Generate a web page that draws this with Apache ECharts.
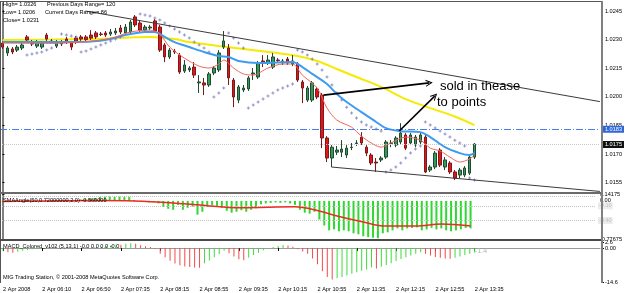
<!DOCTYPE html>
<html>
<head>
<meta charset="utf-8">
<script src="https://cdn.jsdelivr.net/npm/echarts@6/dist/echarts.min.js"></script>
<style>
  html, body { margin: 0; padding: 0; background: #fff; }
  #main { width: 625px; height: 293px; }
</style>
</head>
<body>
<div id="main"></div>
<script>
  // x axis: one tick label every 8 bars
  const xTickLabels = ['2 Apr 2008', '2 Apr 06:10', '2 Apr 06:50', '2 Apr 07:35', '2 Apr 08:15', '2 Apr 08:55',
    '2 Apr 09:35', '2 Apr 10:15', '2 Apr 10:55', '2 Apr 11:35', '2 Apr 12:15', '2 Apr 12:55', '2 Apr 13:35']
  const barsPerTick = 8
  const slotCount = 122

  // candles: [open, close, low, high]
  const candles = [
    [1.02282, 1.02261, 1.02251, 1.02293], [1.02230, 1.02256, 1.02214, 1.02266], [1.02251, 1.02235, 1.02224, 1.02261],
    [1.02245, 1.02261, 1.02235, 1.02272], [1.02256, 1.02272, 1.02245, 1.02282], [1.02314, 1.02298, 1.02287, 1.02324],
    [1.02287, 1.02277, 1.02266, 1.02298], [1.02266, 1.02287, 1.02256, 1.02298], [1.02261, 1.02282, 1.02251, 1.02293],
    [1.02324, 1.02303, 1.02293, 1.02335], [1.02293, 1.02290, 1.02282, 1.02303], [1.02266, 1.02287, 1.02256, 1.02298],
    [1.02287, 1.02277, 1.02266, 1.02298], [1.02303, 1.02287, 1.02277, 1.02314], [1.02282, 1.02261, 1.02245, 1.02293],
    [1.02308, 1.02287, 1.02277, 1.02319], [1.02314, 1.02303, 1.02293, 1.02324], [1.02314, 1.02300, 1.02293, 1.02324],
    [1.02324, 1.02308, 1.02298, 1.02350], [1.02335, 1.02314, 1.02303, 1.02345], [1.02329, 1.02327, 1.02319, 1.02340],
    [1.02335, 1.02324, 1.02314, 1.02345], [1.02329, 1.02340, 1.02319, 1.02356], [1.02335, 1.02345, 1.02324, 1.02361],
    [1.02361, 1.02340, 1.02329, 1.02377], [1.02335, 1.02366, 1.02324, 1.02382], [1.02340, 1.02392, 1.02329, 1.02403],
    [1.02419, 1.02377, 1.02366, 1.02429], [1.02387, 1.02350, 1.02340, 1.02398], [1.02350, 1.02366, 1.02340, 1.02377],
    [1.02361, 1.02366, 1.02350, 1.02377], [1.02398, 1.02345, 1.02335, 1.02408], [1.02366, 1.02245, 1.02235, 1.02377],
    [1.02272, 1.02209, 1.02182, 1.02282], [1.02209, 1.02245, 1.02198, 1.02256], [1.02240, 1.02235, 1.02224, 1.02251],
    [1.02219, 1.02130, 1.02120, 1.02230], [1.02135, 1.02167, 1.02125, 1.02193], [1.02141, 1.02151, 1.02130, 1.02161],
    [1.02156, 1.02114, 1.02099, 1.02182], [1.02073, 1.02078, 1.02020, 1.02114], [1.02073, 1.02062, 1.02009, 1.02099],
    [1.02062, 1.02120, 1.02052, 1.02130], [1.02125, 1.02151, 1.02114, 1.02161], [1.02141, 1.02230, 1.02130, 1.02245],
    [1.02261, 1.02293, 1.02251, 1.02345], [1.02256, 1.02099, 1.02062, 1.02277], [1.02088, 1.01999, 1.01946, 1.02099],
    [1.01983, 1.02052, 1.01967, 1.02062], [1.02036, 1.02046, 1.02025, 1.02062], [1.02041, 1.02099, 1.02031, 1.02109],
    [1.02120, 1.02125, 1.02088, 1.02151], [1.02104, 1.02177, 1.02094, 1.02188], [1.02188, 1.02177, 1.02156, 1.02219],
    [1.02177, 1.02193, 1.02167, 1.02219], [1.02156, 1.02209, 1.02146, 1.02230], [1.02193, 1.02190, 1.02182, 1.02203],
    [1.02177, 1.02188, 1.02167, 1.02198], [1.02198, 1.02177, 1.02167, 1.02209], [1.02172, 1.02188, 1.02161, 1.02219],
    [1.02172, 1.02088, 1.02078, 1.02182], [1.02078, 1.02046, 1.01967, 1.02088], [1.01983, 1.02046, 1.01973, 1.02057],
    [1.01983, 1.02073, 1.01973, 1.02083], [1.02041, 1.01999, 1.01988, 1.02052], [1.02009, 1.01784, 1.01731, 1.02020],
    [1.01784, 1.01679, 1.01658, 1.01794], [1.01679, 1.01736, 1.01632, 1.01747], [1.01710, 1.01721, 1.01695, 1.01742],
    [1.01710, 1.01726, 1.01684, 1.01773], [1.01695, 1.01731, 1.01679, 1.01747], [1.01734, 1.01736, 1.01721, 1.01758],
    [1.01755, 1.01758, 1.01742, 1.01773], [1.01789, 1.01758, 1.01747, 1.01815], [1.01736, 1.01705, 1.01689, 1.01747],
    [1.01695, 1.01653, 1.01642, 1.01705], [1.01658, 1.01653, 1.01606, 1.01679], [1.01669, 1.01679, 1.01658, 1.01689],
    [1.01684, 1.01763, 1.01674, 1.01773], [1.01755, 1.01758, 1.01736, 1.01773], [1.01747, 1.01784, 1.01736, 1.01794],
    [1.01763, 1.01810, 1.01752, 1.01862], [1.01800, 1.01731, 1.01721, 1.01810], [1.01758, 1.01800, 1.01747, 1.01810],
    [1.01747, 1.01789, 1.01736, 1.01800], [1.01763, 1.01800, 1.01752, 1.01810], [1.01789, 1.01606, 1.01600, 1.01800],
    [1.01616, 1.01632, 1.01606, 1.01642], [1.01632, 1.01705, 1.01621, 1.01716], [1.01721, 1.01642, 1.01632, 1.01731],
    [1.01632, 1.01669, 1.01616, 1.01684], [1.01653, 1.01606, 1.01595, 1.01663], [1.01606, 1.01574, 1.01564, 1.01616],
    [1.01590, 1.01616, 1.01574, 1.01627], [1.01590, 1.01627, 1.01579, 1.01637], [1.01600, 1.01684, 1.01590, 1.01695],
    [1.01684, 1.01752, 1.01674, 1.01758]
  ]

  // moving averages: [bar, price]
  const yellowMA = [[0, 1.02298], [10, 1.02300], [20, 1.02305], [30, 1.02314], [35, 1.02303], [38, 1.02287], [44, 1.02266],
    [49, 1.02251], [55, 1.02232], [60, 1.02214], [64, 1.02188], [68, 1.02146], [72, 1.02104], [77, 1.02052], [82, 1.01988],
    [87, 1.01941], [92, 1.01897], [96, 1.01852]]
  const blueMA = [[0, 1.02287], [10, 1.02287], [18, 1.02290], [22, 1.02303], [25, 1.02324], [29, 1.02340], [31, 1.02340],
    [33, 1.02314], [35, 1.02287], [38, 1.02261], [41, 1.02235], [44, 1.02214], [46, 1.02209], [48, 1.02188], [52, 1.02177],
    [56, 1.02180], [59, 1.02182], [61, 1.02156], [63, 1.02120], [66, 1.02067], [68, 1.02015], [70, 1.01973], [73, 1.01920],
    [76, 1.01868], [78, 1.01836], [81, 1.01820], [85, 1.01815], [87, 1.01789], [90, 1.01736], [93, 1.01705], [95, 1.01695],
    [96, 1.01705]]
  const redMA = [[0, 1.02282], [10, 1.02280], [16, 1.02287], [20, 1.02298], [23, 1.02314], [26, 1.02340], [30, 1.02350],
    [32, 1.02329], [34, 1.02261], [37, 1.02203], [40, 1.02161], [42, 1.02151], [44, 1.02172], [45, 1.02193], [47, 1.02151],
    [49, 1.02120], [51, 1.02114], [54, 1.02151], [57, 1.02172], [59, 1.02172], [61, 1.02114], [64, 1.02046], [66, 1.01941],
    [68, 1.01878], [71, 1.01841], [73, 1.01794], [75, 1.01758], [77, 1.01736], [79, 1.01758], [82, 1.01789], [85, 1.01773],
    [87, 1.01731], [89, 1.01716], [91, 1.01684], [93, 1.01658], [95, 1.01674], [96, 1.01695]]

  // parabolic SAR dots: [bar, price]
  const sarPoints = [[5, 1.02219], [6, 1.02224], [7, 1.02230], [8, 1.02235], [9, 1.02245], [10, 1.02256],
    [12, 1.02329], [13, 1.02324], [14, 1.02319], [15, 1.02314],
    [16, 1.02235], [17, 1.02240], [18, 1.02251], [19, 1.02261], [20, 1.02272], [21, 1.02282], [22, 1.02293], [23, 1.02303], [24, 1.02314],
    [28, 1.02434], [29, 1.02429], [30, 1.02424], [31, 1.02413], [32, 1.02403], [33, 1.02387], [34, 1.02371], [35, 1.02356],
    [36, 1.02340], [37, 1.02324], [38, 1.02308], [39, 1.02287], [40, 1.02272], [41, 1.02256], [42, 1.02235],
    [43, 1.01999], [44, 1.02020], [45, 1.02046],
    [46, 1.02335], [47, 1.02308], [48, 1.02282], [49, 1.02256],
    [50, 1.01941], [51, 1.01957], [52, 1.01973], [53, 1.01988], [54, 1.02004], [55, 1.02020], [56, 1.02036], [57, 1.02046],
    [58, 1.02057], [59, 1.02067],
    [60, 1.02245], [61, 1.02235], [62, 1.02219], [63, 1.02198], [64, 1.02172], [65, 1.02141], [66, 1.02104], [67, 1.02062],
    [68, 1.02020], [69, 1.01983], [70, 1.01946], [71, 1.01915], [72, 1.01889], [73, 1.01868],
    [74, 1.01852], [75, 1.01842], [76, 1.01831], [77, 1.01821],
    [78, 1.01606], [79, 1.01616], [80, 1.01632], [81, 1.01653], [82, 1.01679], [83, 1.01705], [84, 1.01726], [85, 1.01742],
    [86, 1.01868], [87, 1.01852], [88, 1.01836], [89, 1.01821], [90, 1.01805], [91, 1.01789], [92, 1.01773], [93, 1.01758],
    [94, 1.01742], [95, 1.01574], [96, 1.01564]]

  // hand drawn lines: [bar, price]
  const upperTrend = [[16.9, 1.02450], [121.5, 1.01975]]
  const lowerTrend = [[66.9, 1.01632], [121.5, 1.01504]]
  const arrowOne = [[65.3, 1.02009], [86.8, 1.02073]]
  const arrowTwo = [[80.7, 1.01821], [87.9, 1.02004]]

  const priceTicks = [1.0245, 1.0230, 1.0215, 1.0200, 1.0185, 1.0170, 1.0155]
  const priceLevel = 1.0183
  const lastPrice = 1.0175

  // SMAAngle histogram and signal line
  const smaAngle = [-0.01, -0.01, -0.02, -0.01, 0, 0.01, 0.01, 0, -0.01, 0, 0.01, 0.01, 0.02, 0.02, 0.01, 0.02, 0.03, 0.04, 0.05,
    0.06, 0.08, 0.09, 0.09, 0.08, 0.09, 0.08, 0.08,
    0.02, 0.0, -0.02, -0.03, -0.02, -0.05,
    -0.12, -0.16, -0.18,
    -0.08, -0.18, -0.14, -0.12, -0.28, -0.22, -0.12, -0.09, -0.10, -0.14, -0.20, -0.24, -0.22, -0.19,
    -0.22, -0.18, -0.15,
    -0.07, -0.05, -0.04, -0.03, -0.04, -0.03, -0.05, -0.08,
    -0.18, -0.24, -0.26, -0.22,
    -0.38, -0.50, -0.60, -0.58,
    -0.62, -0.60, -0.62, -0.66, -0.68, -0.72, -0.74, -0.75, -0.76, -0.66, -0.64,
    -0.60, -0.56, -0.60, -0.56, -0.55, -0.54, -0.60, -0.58, -0.55, -0.58, -0.56, -0.60, -0.62, -0.60, -0.58, -0.55, -0.56]
  const smaAngleLine = [[0, -0.01], [19, 0.01], [27, 0.0], [35, -0.04], [40, -0.08], [49, -0.14], [60, -0.12], [64, -0.18],
    [68, -0.29], [74, -0.43], [78, -0.51], [85, -0.51], [90, -0.47], [96, -0.51]]
  const smaLevels = [0.10, -0.10, -0.40]

  // MACD histogram
  const macd = [-1.2, -1.8, -2.0, -1.6,
    -1.2, -0.8, -0.5, -0.2, 0.1, 0.2, 0.1, -0.1, 0.1, 0.2, 0.1, 0.0, 0.2, 0.3, 0.2, 0.4,
    0.6, 0.9, 1.2, 1.5, 1.4, 1.8, 2.1, 1.9,
    1.2, 0.8, 0.4, -0.3,
    -2.5, -4.0, -5.5, -6.6, -7.4, -7.9, -8.2, -8.4, -8.5,
    -6.5, -5.4, -4.0, -2.6, -1.2,
    -2.2, -3.6, -4.8, -5.3,
    -4.2, -3.0, -2.0,
    -1.0, -0.3, 0.4, 0.9,
    1.3, 1.1, 0.6,
    -0.5, -1.5, -2.5,
    -4.5, -7.0, -10.0, -12.5, -13.5,
    -13.0, -12.4, -11.8, -11.0, -10.4, -9.8, -9.2,
    -8.4, -8.8, -8.0, -7.3, -6.5, -5.6, -4.7, -4.0, -3.2, -2.4, -1.8,
    -2.5, -3.2, -3.8, -4.2, -4.5, -4.6,
    -4.2, -3.6, -3.0, -2.5, -2.0]

  const FONT = '"Liberation Sans", Arial, sans-serif'
  const small = 5.6

  const cats = []
  for (let i = 0; i < slotCount; i++) {
    cats.push(i % barsPerTick === 0 ? (xTickLabels[i / barsPerTick] || '') : '')
  }
  const hasLabel = (idx, val) => val !== ''

  const chevron = 'path://M5,0 L10,10 L8.4,10 L5,3.2 L1.6,10 L0,10 Z'
  const plus = 'path://M1,0H2V1H3V2H2V3H1V2H0V1H1Z'

  const grids = [
    { left: 0, top: 3, width: 600, height: 189 },
    { left: 0, top: 194, width: 600, height: 45 },
    { left: 0, top: 242, width: 600, height: 40 }
  ]

  const hiddenCat = (g) => ({
    type: 'category', gridIndex: g, data: cats, boundaryGap: true,
    axisLine: { show: false }, axisTick: { show: false }, axisLabel: { show: false }, splitLine: { show: false }
  })
  const hiddenVal = (g) => ({ type: 'value', gridIndex: g, min: -0.5, max: slotCount - 0.5, show: false })

  const rightAxis = (g, min, max, ticks, fmt) => ({
    type: 'value', gridIndex: g, position: 'right', offset: 2, min: min, max: max,
    splitLine: { show: false },
    axisLine: { show: true, lineStyle: { color: '#808080', width: 2 } },
    axisTick: { show: true, customValues: ticks, length: 2, lineStyle: { color: '#000' } },
    axisLabel: { customValues: ticks, formatter: fmt, fontSize: small, fontFamily: FONT, color: '#000', margin: 3 }
  })

  const macdItems = macd.map((v, i) => ({
    value: v,
    itemStyle: { color: (i === 0 || v >= macd[i - 1]) ? '#3ddc3d' : '#f24a4a' }
  }))

  const boxLabel = (text, bg) => ({
    show: true, position: 'end', distance: 3, formatter: text, color: '#fff',
    backgroundColor: bg, padding: [1, 2, 0, 2], fontSize: small, fontFamily: FONT
  })

  const chart = echarts.init(document.getElementById('main'))
  chart.setOption({
    animation: false,
    backgroundColor: '#fff',
    grid: grids,
    xAxis: [
      hiddenCat(0), hiddenVal(0),
      hiddenCat(1), hiddenVal(1),
      {
        type: 'category', gridIndex: 2, data: cats, boundaryGap: true,
        axisLine: { show: true, lineStyle: { color: '#999' } },
        axisTick: { show: true, interval: hasLabel, alignWithLabel: true, length: 3, lineStyle: { color: '#000' } },
        axisLabel: { interval: hasLabel, align: 'left', fontSize: small, fontFamily: FONT, color: '#000', margin: 4 },
        splitLine: { show: false }
      }
    ],
    yAxis: [
      rightAxis(0, 1.01501, 1.02492, priceTicks, (v) => v.toFixed(4)),
      rightAxis(1, -0.77675, 0.14175, [0.14175, 0, -0.77675], (v) => v === 0 ? '0.00' : String(v)),
      rightAxis(2, -14.6, 2.6, [2.6, 0, -14.6], (v) => v === 0 ? '0.00' : v.toFixed(1))
    ],
    series: [
      {
        type: 'line', xAxisIndex: 1, yAxisIndex: 0, data: yellowMA, smooth: 0.3, showSymbol: false, z: 3,
        lineStyle: { color: '#f5ea00', width: 2 }
      },
      {
        type: 'candlestick', xAxisIndex: 0, yAxisIndex: 0, data: candles, barWidth: 3, z: 4,
        itemStyle: { color: '#2f9b5b', color0: '#e3141a', borderColor: '#24472f', borderColor0: '#7a1a1a', borderWidth: 1 },
        markLine: {
          silent: true, symbol: 'none', animation: false, precision: 5,
          lineStyle: { color: '#c8c8c8', width: 1, type: [1, 1] },
          data: [{ yAxis: lastPrice, label: boxLabel(lastPrice.toFixed(4), '#111') }]
        }
      },
      {
        type: 'line', xAxisIndex: 1, yAxisIndex: 0, data: blueMA, smooth: 0.3, showSymbol: false, z: 5,
        lineStyle: { color: '#3d9cf0', width: 2 }
      },
      {
        type: 'line', xAxisIndex: 1, yAxisIndex: 0, data: redMA, smooth: 0.3, showSymbol: false, z: 6,
        lineStyle: { color: '#f2665a', width: 1 }
      },
      {
        type: 'scatter', xAxisIndex: 1, yAxisIndex: 0, data: sarPoints, symbol: plus, symbolSize: 3, z: 6,
        itemStyle: { color: '#7676b8' }
      },
      {
        type: 'line', xAxisIndex: 1, yAxisIndex: 0, data: lowerTrend, showSymbol: false, z: 7,
        lineStyle: { color: '#3a3a3a', width: 1 },
        markLine: {
          silent: true, symbol: 'none', animation: false, precision: 5, z: 8,
          lineStyle: { color: '#4a7cf2', width: 1, type: [7, 2, 1, 2], opacity: 1 },
          data: [{ yAxis: priceLevel, label: boxLabel(priceLevel.toFixed(4), '#2f66d8') }]
        }
      },
      {
        type: 'line', xAxisIndex: 1, yAxisIndex: 0, data: upperTrend, showSymbol: false, z: 7,
        lineStyle: { color: '#3a3a3a', width: 1 },
        markLine: {
          silent: true, symbol: ['none', chevron], symbolSize: [7, 7], animation: false, z: 8, precision: 5,
          lineStyle: { color: '#000', width: 1.6, type: 'solid' },
          label: { show: false },
          data: [
            [{ coord: arrowOne[0] }, { coord: arrowOne[1] }],
            [{ coord: arrowTwo[0] }, { coord: arrowTwo[1] }]
          ]
        }
      },
      {
        type: 'bar', xAxisIndex: 2, yAxisIndex: 1, data: smaAngle, barWidth: 2,
        itemStyle: { color: '#2fd82f' }
      },
      {
        type: 'line', xAxisIndex: 3, yAxisIndex: 1, data: smaAngleLine, smooth: 0.3, showSymbol: false, z: 5,
        lineStyle: { color: '#ee2a22', width: 1.5 },
        markLine: {
          silent: true, symbol: 'none', animation: false, precision: 5,
          lineStyle: { color: '#c4c4c4', width: 1, type: [1, 1] },
          data: smaLevels.map((v) => ({
            yAxis: v,
            label: {
              show: v < 0, position: 'end', distance: 3, formatter: v.toFixed(2), color: '#c0c0c0',
              backgroundColor: '#ececec', padding: [1, 1, 0, 1], fontSize: small, fontFamily: FONT
            }
          }))
        }
      },
      {
        type: 'bar', xAxisIndex: 4, yAxisIndex: 2, data: macdItems, barWidth: 1
      }
    ],
    graphic: [
      { type: 'rect', z: 50, shape: { x: 0, y: 1, width: 603, height: 1 }, style: { fill: '#555' } },
      { type: 'rect', z: 50, shape: { x: 0, y: 1, width: 1, height: 282 }, style: { fill: '#555' } },
      { type: 'rect', z: 50, shape: { x: 0, y: 192, width: 603, height: 2 }, style: { fill: '#6a6a6a' } },
      { type: 'rect', z: 50, shape: { x: 0, y: 239, width: 603, height: 2 }, style: { fill: '#4a4a4a' } },
      { type: 'rect', z: 50, shape: { x: 601, y: 1, width: 2, height: 282 }, style: { fill: '#808080' } },

      { type: 'text', z: 60, left: 3, top: 1, style: { text: 'High= 1.0326', font: small + 'px ' + FONT, fill: '#000' } },
      { type: 'text', z: 60, left: 3, top: 9.5, style: { text: 'Low= 1.0206', font: small + 'px ' + FONT, fill: '#000' } },
      { type: 'text', z: 60, left: 3, top: 17, style: { text: 'Close= 1.0231', font: small + 'px ' + FONT, fill: '#000' } },
      { type: 'text', z: 60, left: 47, top: 1, style: { text: 'Previous Days Range= 120', font: small + 'px ' + FONT, fill: '#000' } },
      { type: 'text', z: 60, left: 45, top: 9.5, style: { text: 'Current Days Range= 86', font: small + 'px ' + FONT, fill: '#000' } },

      { type: 'text', z: 60, left: 440, top: 80, style: { text: 'sold in thease', font: '13px ' + FONT, fill: '#000' } },
      { type: 'text', z: 60, left: 437, top: 95.5, style: { text: 'to points', font: '13px ' + FONT, fill: '#000' } },

      { type: 'text', z: 60, left: 3, top: 197, style: { text: 'SMAAngle(50,0.72000000,2,0) -0.560000', font: small + 'px ' + FONT, fill: '#000' } },
      { type: 'text', z: 60, left: 3, top: 243, style: { text: 'MACD_Colored_v102 (5,13,1) -0.0 0.0 0.0 -0.0', font: small + 'px ' + FONT, fill: '#000' } },
      { type: 'text', z: 60, left: 475, top: 248, style: { text: '-1.4', font: '7px ' + FONT, fill: '#b4b4b4' } },
      { type: 'text', z: 60, left: 3, top: 274, style: { text: 'MIG Trading Station, \u00a9 2001-2008 MetaQuotes Software Corp.', font: small + 'px ' + FONT, fill: '#000' } }
    ]
  })
</script>
</body>
</html>
